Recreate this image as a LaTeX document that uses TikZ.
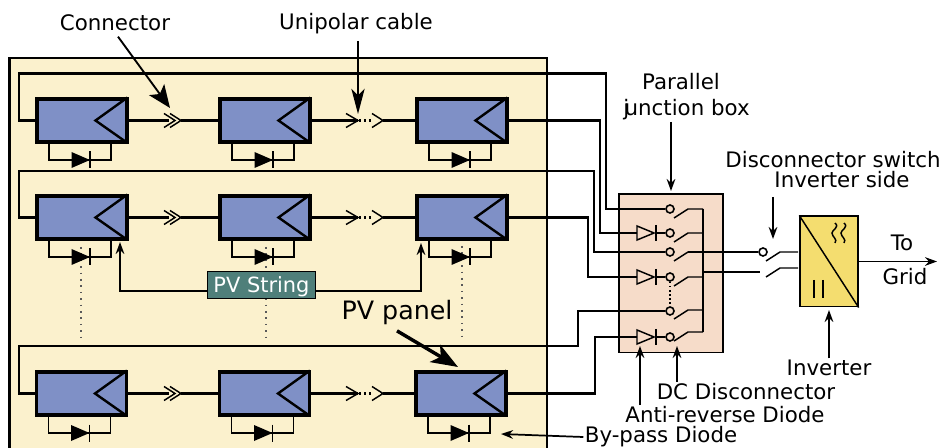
\documentclass[tikz,border=0pt]{standalone}
\usepackage{fontspec}
\setmainfont{DejaVu Sans}
\usetikzlibrary{arrows.meta}

\definecolor{framefill}{HTML}{FBF1CD}
\definecolor{panelfill}{HTML}{7F90C6}
\definecolor{jboxfill}{HTML}{F6DCC9}
\definecolor{invfill}{HTML}{F4DD6F}
\definecolor{stringfill}{HTML}{4F7F7A}

\tikzset{
	wire/.style={line width=1.8pt},
	thinwire/.style={line width=1.1pt},
	dotcol/.style={line width=1.2pt, gray!70!black, dash pattern=on 1.2pt off 3.6pt},
	panel/.style={draw, fill=panelfill, line width=2.3pt, anchor=north west, inner sep=0pt, outer sep=0pt, minimum width=67.5pt, minimum height=32.25pt},
	label/.style={font=\fontsize{16}{18}\selectfont, inner sep=1pt},
	pointer/.style={-{Stealth[length=9pt, width=6.5pt]}, line width=1.3pt},
	bigpointer/.style={-{Stealth[length=17pt, width=14pt, inset=4pt]}, line width=1.4pt},
	contact/.style={draw, circle, line width=1.2pt, inner sep=0pt, minimum size=6pt},
}

% panel with its by-pass diode, origin at the top left corner
\newcommand{\pvpanel}[3]{
	\begin{scope}[shift={(#2,#3)}]
		\draw [thinwire] (13,44) |- (75,62) -- (75,44);
		\node [panel] (#1) at (1,1) {};
		\draw [line width=1.8pt] (91.5,-0.5) -- (59.5,22.5) -- (91.5,45);
		\fill (35.5,54) -- (54,62) -- (35.5,70) -- cycle;
		\draw [thinwire] (54,53.5) -- (54,70.5);
	\end{scope}
}
% double chevron, #2 is the tip of the front one
\newcommand{\plugdouble}[3]{
	\coordinate (#1a) at (#2-12,#3);
	\coordinate (#1b) at (#2,#3);
	\draw [thinwire] (#2-17,#3-7) -- (#2-6,#3) -- (#2-17,#3+7);
	\draw [thinwire] (#2-11,#3-7) -- (#2,#3) -- (#2-11,#3+7);
}
% two chevrons joined by dots
\newcommand{\plugdotted}[3]{
	\coordinate (#1a) at (#2,#3);
	\coordinate (#1b) at (#2+25,#3);
	\draw [thinwire] (#2-12,#3-7) -- (#2,#3) -- (#2-12,#3+7);
	\draw [thinwire] (#2+14,#3-7) -- (#2+25,#3) -- (#2+14,#3+7);
	\draw [line width=1.7pt, dash pattern=on 1.7pt off 2pt] (#2+1,#3) -- (#2+15,#3);
}
% contact and blade of the box, #2 contact height, #3 blade top
\newcommand{\boxswitch}[3]{
	\node [contact] (#1) at (670,#2) {};
	\draw [thinwire] (674,#3+9) -- (688,#3) -- (bus|-0,#3);
}
% diode in front of a contact
\newcommand{\boxdiode}[2]{
	\coordinate (#1) at (637,#2);
	\draw [thinwire] (637,#2-7) -- (654,#2) -- (637,#2+7) -- cycle;
	\draw [thinwire] (656,#2-8) -- (656,#2+8);
}

\begin{document}
\begin{tikzpicture}[x=0.75pt, y=-0.75pt]
	\useasboundingbox (0,0) rectangle (941,448);

	\fill [framefill] (9.5,448) rectangle (547,58);
	\draw [line width=1.6pt] (9.5,448) |- (547,58) -- (547,448);

	\draw [dotcol] (81,247) -- (81,337);
	\draw [dotcol] (266,247) -- (266,337);
	\draw [dotcol] (462,246) -- (462,337);

	\node [draw, fill=jboxfill, line width=1pt, inner sep=0pt, minimum width=78pt, minimum height=119pt] (jbox) at (671,273.5) {};
	\coordinate (bus) at (703,209);

	\pvpanel{p11}{36}{98}
	\pvpanel{p12}{219}{98}
	\pvpanel{p13}{416}{98}
	\pvpanel{p21}{36}{195}
	\pvpanel{p22}{219}{195}
	\pvpanel{p23}{416}{195}
	\pvpanel{p31}{35.5}{371}
	\pvpanel{p32}{218.5}{371}
	\pvpanel{p33}{415}{371}

	\plugdouble{c11}{181}{120.5}
	\plugdotted{c12}{358}{120.5}
	\plugdouble{c21}{181}{217.5}
	\plugdotted{c22}{358}{217.5}
	\plugdouble{c31}{181}{393.5}
	\plugdotted{c32}{358}{393.5}

	\draw [wire] (p11.east) -- (c11a);
	\draw [wire] (c11b) -- (p12.west);
	\draw [wire] (p12.east) -- (c12a);
	\draw [wire] (c12b) -- (p13.west);
	\draw [wire] (p21.east) -- (c21a);
	\draw [wire] (c21b) -- (p22.west);
	\draw [wire] (p22.east) -- (c22a);
	\draw [wire] (c22b) -- (p23.west);
	\draw [wire] (p31.east) -- (c31a);
	\draw [wire] (c31b) -- (p32.west);
	\draw [wire] (p32.east) -- (c32a);
	\draw [wire] (c32b) -- (p33.west);

	\boxswitch{s1}{209}{209}
	\boxswitch{s2}{233}{233}
	\boxswitch{s3}{252}{252}
	\boxswitch{s4}{277}{277}
	\boxswitch{s5}{311}{310}
	\boxswitch{s6}{337}{332}
	\boxdiode{d2}{233}
	\boxdiode{d4}{277}
	\boxdiode{d6}{337}

	\draw [wire] (p11.west) -| (19,73.5) -- (606,73.5) |- (654,209);
	\draw [thinwire] (654,209) -- (s1.west);
	\draw [wire] (p13.east) -- (600,120.5) |- (d2);
	\draw [thinwire] (656,233) -- (s2.west);
	\draw [wire] (p21.west) -| (19,171) -- (594,171) |- (654,252);
	\draw [thinwire] (654,252) -- (s3.west);
	\draw [wire] (p23.east) -- (588,217.5) |- (d4);
	\draw [thinwire] (656,277) -- (s4.west);
	\draw [wire] (p31.west) -| (19,346) -- (578,346) |- (654,311);
	\draw [thinwire] (654,311) -- (s5.west);
	\draw [wire] (p33.east) -- (595,393.5) |- (d6);
	\draw [thinwire] (656,337) -- (s6.west);

	\draw [line width=1.2pt] (bus) -- (703,332);
	\draw [thinwire, dotted] (s4.south) -- (s5.north);

	% inverter side
	\node [draw, fill=invfill, line width=1pt, inner sep=0pt, minimum width=43.5pt, minimum height=68pt] (inv) at (829,261.5) {};
	\draw [thinwire] (inv.north west) -- (inv.south east);
	\draw [thinwire] (835,223) .. controls (840,227) and (832,230) .. (832,233) .. controls (832,237) and (838,239) .. (835,243);
	\draw [thinwire] (844,223) .. controls (849,227) and (841,230) .. (841,233) .. controls (841,237) and (847,239) .. (844,243);
	\draw [thinwire] (814,280) -- (814,298);
	\draw [thinwire] (823,280) -- (823,298);

	\node [contact] (s7) at (763,252) {};
	\coordinate (s8) at (760,272);
	\draw [thinwire] (688,252) -- (s7.west);
	\draw [thinwire] (766,261) -- (780,252) -- (798,252);
	\draw [thinwire] (bus|-s8) -- (s8);
	\draw [thinwire] (766,277) -- (780,268) -- (798,268);

	\coordinate (gridend) at (937,261.5);
	\draw [pointer] (inv.east) -- (gridend);

	\node [draw, fill=stringfill, text=white, line width=1pt, inner sep=0pt, minimum width=81pt, minimum height=20pt, text depth=0pt, font=\fontsize{15.7}{18}\selectfont] (string) at (261.5,285) {PV String};
	\coordinate (stringltip) at (120,242);
	\coordinate (stringrtip) at (421,243);
	\draw [pointer] (string.west|-0,291) -| (stringltip);
	\draw [pointer] (string.east|-0,291) -| (stringrtip);

	% labels
	\node [label] (lconn) at (115,23) {Connector};
	\node [label] (luni) at (356,24) {Unipolar cable};
	\node [label] (lpar) at (681,82) {Parallel};
	\node [label] (ljunc) at (686.5,110) {j\kern-3.5pt unction box};
	\node [label] (ldisc) at (833,160) {Disconnector switch};
	\node [label] (lside) at (842,180) {Inverter side};
	\node [label] (lto) at (902,243) {To};
	\node [label] (lgrid) at (905,277) {Grid};
	\node [label] (linv) at (829,368) {Inverter};
	\node [label] (ldc) at (746,392) {DC Disconnector};
	\node [label] (lanti) at (725,415) {Anti-reverse Diode};
	\node [label] (lby) at (661,437) {By-pass Diode};
	\node [label, font=\fontsize{19}{22}\selectfont] (lpanel) at (397,313) {PV panel};

	\coordinate (connptr) at (170,108);
	\coordinate (uniptr) at (358,114);
	\coordinate (jboxptr) at (671,191);
	\coordinate (discptr) at (773,239);
	\coordinate (invptr) at (829,310);
	\coordinate (antiptr) at (640,346);
	\coordinate (dcptr) at (677,346);
	\coordinate (byptr) at (501,434);
	\coordinate (panelptr) at (458,367);

	\draw [bigpointer] (lconn.south) ++(3,4) -- (connptr);
	\draw [bigpointer, -{Stealth[length=19pt, width=10pt, inset=5pt]}] (luni.south-|uniptr) ++(0,5) -- (uniptr);
	\draw [pointer] (ljunc.south-|jboxptr) -- (jboxptr);
	\draw [pointer] (773,197) -- (discptr);
	\draw [pointer] (linv.north-|invptr) -- (invptr);
	\draw [pointer] (lanti.north-|antiptr) -- (antiptr);
	\draw [pointer] (ldc.north-|dcptr) -- (dcptr);
	\draw [pointer] (lby.west) -- (byptr);
	\draw [line width=2.6pt, -{Stealth[length=20pt, width=15pt, inset=5pt]}] (lpanel.south) ++(0,4) -- (panelptr);
\end{tikzpicture}
\end{document}
